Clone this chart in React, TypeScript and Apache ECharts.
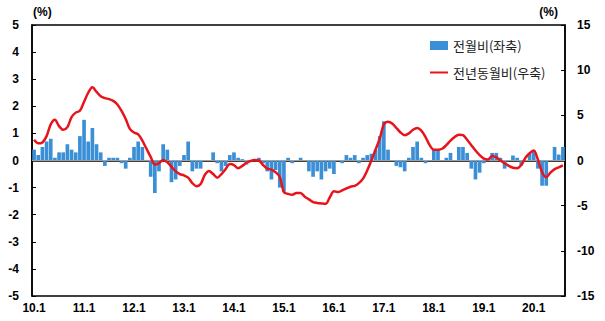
import React, { useEffect, useRef } from 'react';
import * as echarts from 'echarts';

const years = ['10', '11', '12', '13', '14', '15', '16', '17', '18', '19', '20'];
const lastMonthOfLastYear = 8;
const categories: string[] = [];
for (const y of years) {
  for (let m = 1; m <= 12; m++) {
    if (y === '20' && m > lastMonthOfLastYear) break;
    categories.push(`${y}.${m}`);
  }
}

// 전월비 (left axis, %)
const momValues = [
  0.4, 0.2, 0.5, 0.7, 0.8, 0.1, 0.3, 0.3, 0.6, 0.4, 0.3, 0.9,
  1.5, 0.7, 1.2, 0.6, 0.3, -0.2, 0.1, 0.1, 0.1, -0.1, -0.3, 0.1,
  0.5, 0.7, 0.5, 0.02, -0.6, -1.2, -0.4, 0.6, 0.4, -0.8, -0.7, -0.2,
  0.2, 0.7, -0.4, -0.3, -0.3, 0.0, 0.0, 0.3, -0.1, -0.4, -0.2, 0.2,
  0.3, 0.1, 0.05, -0.15, 0.0, 0.05, 0.1, -0.1, -0.4, -0.7, -0.35, -1.0,
  -1.15, 0.1, -0.1, 0.0, 0.1, 0.0, -0.4, -0.6, -0.4, -0.7, -0.4, -0.3,
  -0.5, 0.0, -0.1, 0.2, 0.1, 0.2, -0.1, 0.1, 0.2, 0.25, 0.4, 0.9,
  1.45, 0.4, 0.0, -0.2, -0.25, -0.4, 0.1, 0.5, 0.7, 0.1, -0.1, 0.0,
  0.4, 0.4, 0.0, 0.1, 0.28, 0.0, 0.5, 0.5, 0.28, -0.3, -0.7, -0.45,
  -0.1, 0.0, 0.28, 0.28, 0.1, -0.3, 0.0, 0.18, 0.1, -0.18, 0.0, 0.25,
  0.37, -0.3, -0.93, -0.93, 0.0, 0.5, 0.22, 0.5,
];

// 전년동월비 (right axis, %)
const yoyValues = [
  2.3, 1.9, 2.0, 2.7, 4.0, 4.5, 3.8, 3.4, 3.7, 4.8, 5.3, 5.5,
  6.5, 7.5, 8.1, 7.6, 7.1, 6.9, 6.8, 6.6, 6.2, 5.5, 4.6, 3.5,
  3.1, 2.9, 2.2, 1.3, 0.4, -0.45, -0.3, 0.05, -0.2, -0.7, -1.2, -1.5,
  -1.65, -1.9, -2.5, -2.85, -2.6, -1.6, -1.15, -1.5, -1.9, -1.5, -0.95, -0.4,
  -0.5, -0.85, -0.6, -0.25, -0.05, 0.05, 0.0, -0.5, -0.9, -1.0, -1.3, -1.8,
  -3.5, -3.7, -3.8, -3.6, -3.6, -4.0, -4.3, -4.6, -4.7, -4.75, -4.8, -4.1,
  -3.4, -3.5, -3.3, -3.1, -2.9, -2.8, -2.5, -2.0, -1.1, 0.0, 1.2, 2.4,
  4.0, 4.3, 4.1, 3.6, 3.1, 2.8, 3.0, 3.4, 3.6, 3.3, 2.6, 1.7,
  1.2, 1.2, 1.3, 1.7, 2.2, 2.6, 2.85, 2.8, 2.3, 1.7, 1.1, 0.6,
  0.2, 0.1, 0.5, 0.35, 0.0, -0.3, -0.6, -0.8, -0.85, -0.5, 0.3, 0.8,
  1.1, 0.1, -1.3, -1.85, -1.35, -0.95, -0.75, -0.55,
];

const seriesNames = ['전월비(좌축)', '전년동월비(우축)'];
const unitLabel = '(%)';

const numFont = '"Liberation Sans", Arial, sans-serif';
const krFont = '"Noto Sans CJK KR", "Noto Sans", sans-serif';

export default function App() {
  const ref = useRef<HTMLDivElement>(null);

  useEffect(() => {
    if (!ref.current) return;
    const chart = echarts.init(ref.current, undefined, { renderer: 'svg' });
    const axisLabelStyle = {
      color: '#000',
      fontWeight: 'bold' as const,
      fontSize: 12,
      fontFamily: numFont,
    };
    chart.setOption({
      animation: false,
      backgroundColor: '#fff',
      grid: {
        left: 32,
        right: 40,
        top: 25,
        bottom: 25,
        show: true,
        borderColor: '#000',
        borderWidth: 1.5,
        backgroundColor: 'transparent',
      },
      legend: {
        orient: 'vertical',
        left: 429,
        top: 39,
        padding: 0,
        itemWidth: 18,
        itemHeight: 9,
        itemGap: 14,
        textStyle: { fontSize: 13, fontFamily: krFont, color: '#222' },
        data: [
          { name: seriesNames[0], icon: 'rect' },
          { name: seriesNames[1], itemStyle: { opacity: 0 } },
        ],
      },
      graphic: [
        {
          type: 'text',
          left: 33,
          top: 6,
          style: { text: unitLabel, font: `bold 12px ${numFont}`, fill: '#000' },
        },
        {
          type: 'text',
          right: 47,
          top: 6,
          style: { text: unitLabel, font: `bold 12px ${numFont}`, fill: '#000' },
        },
      ],
      xAxis: {
        type: 'category',
        data: categories,
        boundaryGap: true,
        axisLine: { lineStyle: { color: '#000', width: 1.5 } },
        axisTick: { show: false },
        axisLabel: { ...axisLabelStyle, interval: 11, margin: 6 },
        splitLine: { show: false },
      },
      yAxis: [
        {
          type: 'value',
          min: -5,
          max: 5,
          interval: 1,
          position: 'left',
          axisLine: { show: true, lineStyle: { color: '#000', width: 1.5 } },
          axisTick: { show: true, inside: true, length: 4, lineStyle: { color: '#000' } },
          axisLabel: { ...axisLabelStyle, margin: 13 },
          splitLine: { show: false },
        },
        {
          type: 'value',
          min: -15,
          max: 15,
          interval: 5,
          position: 'right',
          axisLine: { show: true, lineStyle: { color: '#000', width: 1.5 } },
          axisTick: { show: true, inside: true, length: 4, lineStyle: { color: '#000' } },
          axisLabel: { ...axisLabelStyle, margin: 12 },
          splitLine: { show: false },
        },
      ],
      series: [
        {
          name: seriesNames[0],
          type: 'bar',
          yAxisIndex: 0,
          data: momValues,
          barCategoryGap: '12%',
          itemStyle: { color: '#3a8fd6' },
          markLine: {
            silent: true,
            symbol: ['none', 'none'],
            label: { show: false },
            lineStyle: { color: '#a0a0a0', width: 1, type: 'solid' },
            data: [{ yAxis: 0 }],
          },
        },
        {
          name: seriesNames[1],
          type: 'line',
          yAxisIndex: 1,
          data: yoyValues,
          smooth: 0.3,
          symbol: 'none',
          lineStyle: { color: '#e8141c', width: 2.5 },
          itemStyle: { color: '#e8141c' },
          z: 5,
        },
      ],
    });
    return () => chart.dispose();
  }, []);

  return (
    <div
      ref={ref}
      style={{ position: 'fixed', left: 0, top: 0, width: 605, height: 321, background: '#fff' }}
    />
  );
}
